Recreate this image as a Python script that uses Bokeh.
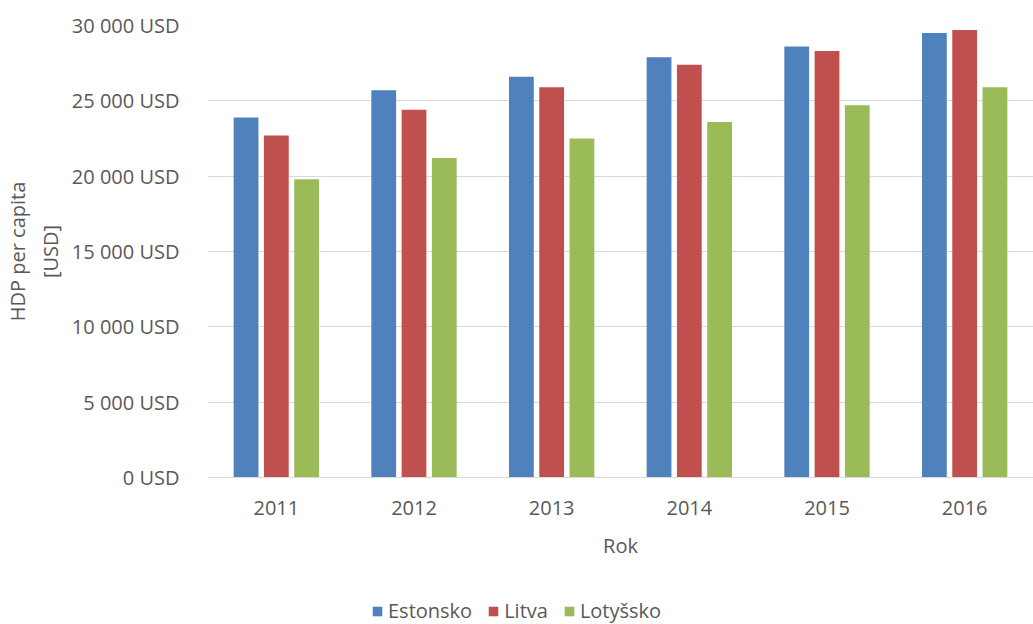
from bokeh.plotting import figure
from bokeh.layouts import column
from bokeh.models import (FactorRange, Range1d, Legend, LegendItem, ColumnDataSource,
                          CustomJSTickFormatter, SingleIntervalTicker)
from bokeh.transform import dodge
from bokeh.embed import file_html
from bokeh.resources import INLINE

years = ["2011", "2012", "2013", "2014", "2015", "2016"]
estonsko = [23900, 25700, 26600, 27900, 28600, 29500]
litva = [22700, 24400, 25900, 27400, 28300, 29700]
lotyssko = [19800, 21200, 22500, 23600, 24700, 25900]
series_names = ["Estonsko", "Litva", "Lotyšsko"]
colors = ["#4F81BD", "#C0504D", "#9BBB59"]

FONT = "Open Sans"
TXT = "#595959"
FS = "20px"

src = ColumnDataSource(dict(years=years, e=estonsko, l=litva, t=lotyssko))

p = figure(width=1033, height=590, x_range=FactorRange(*years), y_range=Range1d(0, 30000),
           output_backend="svg", toolbar_location=None,
           min_border_left=207, min_border_right=0, min_border_top=25, min_border_bottom=113)

for key, off, col in zip(["e", "l", "t"], [-0.22, 0.0, 0.22], colors):
    p.vbar(x=dodge("years", off, range=p.x_range), top=key, width=0.18, source=src,
           fill_color=col, line_color=None)

p.outline_line_color = None
p.xgrid.grid_line_color = None
p.ygrid.grid_line_color = "#D9D9D9"
p.ygrid.grid_line_width = 1

p.yaxis.ticker = SingleIntervalTicker(interval=5000)
p.yaxis.formatter = CustomJSTickFormatter(code="return tick.toFixed(0).replace(/\\B(?=(\\d{3})+(?!\\d))/g, ' ') + ' USD';")
p.yaxis.axis_line_color = None
p.yaxis.major_tick_line_color = None
p.yaxis.minor_tick_line_color = None
p.yaxis.major_label_standoff = 22
p.yaxis.axis_label = "HDP per capita\n[USD]"
p.yaxis.axis_label_standoff = 5

p.xaxis.axis_line_color = "#D9D9D9"
p.xaxis.major_tick_line_color = None
p.xaxis.minor_tick_line_color = None
p.xaxis.major_label_standoff = 17
p.xaxis.axis_label = "Rok"
p.xaxis.axis_label_standoff = 14

for ax in [p.xaxis[0], p.yaxis[0]]:
    ax.major_label_text_font = FONT
    ax.major_label_text_font_size = FS
    ax.major_label_text_color = TXT
    ax.axis_label_text_font = FONT
    ax.axis_label_text_font_size = FS
    ax.axis_label_text_font_style = "normal"
    ax.axis_label_text_color = TXT

# legend strip below the chart (its frame is aligned with the chart's frame)
lg = figure(width=1033, height=34, x_range=Range1d(0, 1), y_range=Range1d(0, 1),
            output_backend="svg", toolbar_location=None,
            x_axis_location=None, y_axis_location=None,
            min_border_left=0, min_border_right=0, min_border_top=0, min_border_bottom=0)
lg.grid.visible = False
lg.outline_line_color = None
dummy = ColumnDataSource(dict(x=[float("nan")], top=[float("nan")], bottom=[float("nan")]))
rs = [lg.vbar(x="x", top="top", bottom="bottom", width=0.01, source=dummy,
              fill_color=c, line_color=None)
      for c in colors]
legend = Legend(items=[LegendItem(label=n, renderers=[r]) for n, r in zip(series_names, rs)],
                orientation="horizontal", location=(164, 0))
legend.label_text_font = FONT
legend.label_text_font_size = FS
legend.label_text_color = TXT
legend.glyph_width = 12
legend.glyph_height = 12
legend.label_standoff = 5
legend.spacing = 15
legend.border_line_color = None
legend.background_fill_alpha = 0
legend.margin = 0
legend.padding = 2
lg.add_layout(legend, "center")

open("out.html", "w").write(file_html(column(p, lg, spacing=0), INLINE))
